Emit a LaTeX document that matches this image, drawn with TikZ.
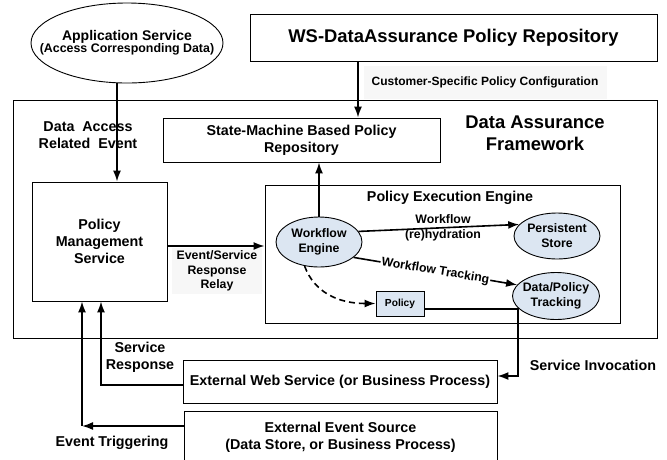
\documentclass[tikz,border=0pt]{standalone}
\usepackage{fontspec}
\setmainfont{Liberation Sans}
\usetikzlibrary{arrows.meta, shapes.geometric}

\definecolor{bluefill}{HTML}{DCE6F2}
\definecolor{lblgray}{HTML}{F7F7F7}

\begin{document}
\begin{tikzpicture}[x=1pt, y=-1pt,
  fbig/.style={font=\fontsize{18.4}{22}\selectfont\bfseries},
  fmain/.style={font=\fontsize{14.3}{17}\selectfont\bfseries},
  fsmall/.style={font=\fontsize{12.3}{15}\selectfont\bfseries},
  box/.style={draw, line width=0.9pt, align=center, inner sep=0pt},
  oval/.style={draw, ellipse, line width=0.9pt, inner sep=0pt},
  txt/.style={align=center, inner sep=0pt},
  arr/.style={line width=1.6pt, -{Latex[length=11pt,width=8pt]}},
  dasharr/.style={line width=1.6pt, dash pattern=on 6pt off 4pt, -{Latex[length=11pt,width=8pt]}}
]
\useasboundingbox (0,0) rectangle (667,459);
\clip (0,0) rectangle (667,459);

% outer framework
\node[box, minimum width=644pt, minimum height=238pt] (frame) at (335,219) {};
\node[txt, fbig] (fwT) at (535,133) {Data Assurance\\Framework};

% top row
\node[oval, minimum width=192pt, minimum height=80pt] (app) at (127,43) {};
\node[txt] (appT) at (app.center)
  {{\fontsize{14}{15}\selectfont\bfseries Application Service}\\
   {\fontsize{12.4}{15}\selectfont\bfseries (Access Corresponding Data)}};
\node[box, fbig, minimum width=407pt, minimum height=47pt] (ws) at (453.5,37.5)
  {WS-DataAssurance Policy Repository};
\node[fill=lblgray, minimum width=243pt, minimum height=33pt,
  font=\fontsize{12}{14}\selectfont\bfseries] (cfgT) at (485,82)
  {Customer-Specific Policy Configuration};

% inside the framework
\node[box, fmain, minimum width=277pt, minimum height=44pt] (sm) at (301.5,140)
  {State-Machine Based Policy\\Repository};
\node[txt, fmain] (dataT) at (88,135) {Data\ \ Access\\Related\ \ Event};
\node[box, fmain, minimum width=135pt, minimum height=119pt] (pms) at (99.5,241.5)
  {Policy\\Management\\Service};
\node[fill=lblgray, minimum width=90pt, minimum height=46pt, txt,
  font=\fontsize{12.3}{14.5}\selectfont\bfseries] (relayT) at (217,271)
  {Event/Service\\Response\\Relay};

% policy execution engine
\node[box, minimum width=355pt, minimum height=138pt] (pee) at (442.5,254) {};
\node[txt, fmain] (peeT) at (450,198) {Policy Execution Engine};
\node[oval, fill=bluefill, minimum width=86pt, minimum height=50pt] (we) at (319,242) {};
\node[txt, fsmall] (weT) at (we.center) {Workflow\\Engine};
\node[oval, fill=bluefill, minimum width=86pt, minimum height=46pt] (ps) at (557,236) {};
\node[txt, fsmall] (psT) at (ps.center) {Persistent\\Store};
\node[oval, fill=bluefill, minimum width=87pt, minimum height=47pt] (tr) at (556,296) {};
\node[txt, fsmall] (trT) at (tr.center) {Data/Policy\\Tracking};
\node[box, fill=bluefill, minimum width=48pt, minimum height=25pt,
  font=\fontsize{10.2}{12}\selectfont\bfseries] (pol) at (400,303.5) {Policy};

% external parties
\node[box, fmain, minimum width=314pt, minimum height=43pt] (wsvc) at (340,381.5)
  {External Web Service (or Business Process)};
\node[box, fmain, minimum width=313pt, minimum height=52pt] (evsrc) at (340.5,437)
  {External Event Source\\(Data Store, or Business Process)};
\node[txt, fmain] (respT) at (140,357) {Service\\Response};
\node[txt, fmain] (trigT) at (112,443) {Event Triggering};
\node[txt, fmain] (invT) at (593,365) {Service Invocation};

% corner points of the routed connectors
\coordinate (trigc) at (82,426);
\coordinate (invc) at (518,376);

% connectors
\draw[arr] ([xshift=-10pt]app.south) -- ([xshift=-10pt]app.south |- pms.north);
\draw[arr] ([xshift=-95.5pt]ws.south) -- ([xshift=-95.5pt]ws.south |- sm.north);
\draw[arr] (we.north) -- (we.north |- sm.south);
\draw[arr] ([yshift=-4.5pt]pms.east) -- ([yshift=-4.5pt]pms.east -| pee.west);
\draw[arr] (we.15) -- (ps.163);
\node[txt, fsmall] (hydT) at (443,228) {Workflow\\(re)hydration};
\draw[arr] (we.-24) -- node[midway, sloped, fill=white, inner sep=1pt, fsmall] (wtT) {Workflow Tracking} (tr.164);
\draw[dasharr] (we.239) .. controls (314,292) and (338,303.5) .. (pol.west);
\draw[arr] ([yshift=-5.5pt]pol.east) -| (invc) -- (wsvc.east |- invc);
\draw[arr] ([yshift=-3.5pt]wsvc.west) -| ([xshift=1.5pt]pms.south);
\draw[arr] (evsrc.west |- trigc) -- (trigc);
\draw[arr] (trigc) -- (trigc |- pms.south);
\end{tikzpicture}
\end{document}
